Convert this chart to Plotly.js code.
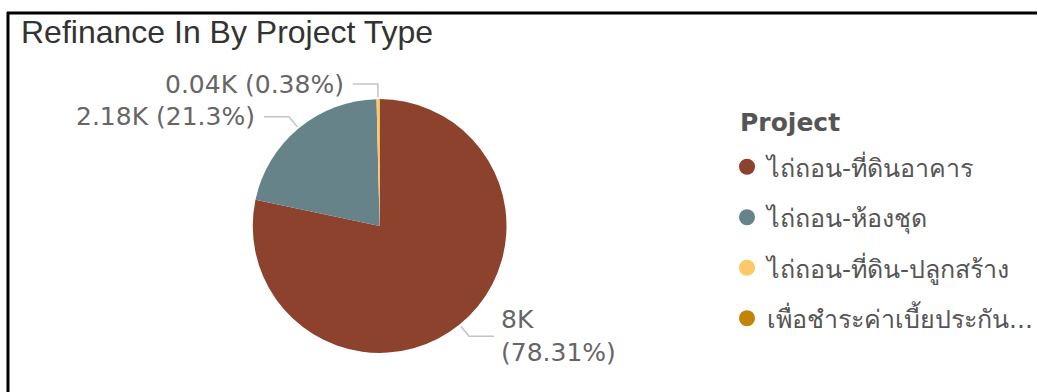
<!DOCTYPE html>
<html>
<head>
<meta charset="utf-8">
<script src="https://cdn.plot.ly/plotly-3.0.1.min.js"></script>
<style>html,body{margin:0;padding:0;background:#fff;}#chart{width:1038px;height:392px;}</style>
</head>
<body>
<div id="chart"></div>
<script>
// ---- data ----
const projects = ["ไถ่ถอน-ที่ดินอาคาร", "ไถ่ถอน-ห้องชุด", "ไถ่ถอน-ที่ดิน-ปลูกสร้าง", "เพื่อชำระค่าเบี้ยประกัน..."];
const amounts = [8003, 2177, 39, 1];
const sliceColors = ["#8C422D", "#67838A", "#FDC866", "#C2830A"];
const chartTitle = "Refinance In By Project Type";
const legendTitle = "Project";

// ---- geometry / style ----
const W = 1038, H = 392;
const pieDomX = [253 / W, 507 / W];
const pieDomY = [1 - 353 / H, 1 - 99 / H];
const cx = (pieDomX[0] + pieDomX[1]) / 2 * W;
const cy = (1 - (pieDomY[0] + pieDomY[1]) / 2) * H;
const R = Math.min((pieDomX[1] - pieDomX[0]) * W, (pieDomY[1] - pieDomY[0]) * H) / 2;
const px2x = p => p / W, py2y = p => 1 - p / H;
const lineColor = "#C4C4C4";
const labelFont = {family: "DejaVu Sans, Verdana, sans-serif", size: 25, color: "#666666"};

function trimNum(n, d) { return parseFloat(n.toFixed(d)).toString(); }

const total = amounts.reduce((a, b) => a + b, 0);
const shapes = [];
const annotations = [];
let cum = 0;
amounts.forEach((v, i) => {
  const frac = v / total;
  const mid = (cum + frac / 2) * 2 * Math.PI; // clockwise from 12 o'clock
  cum += frac;
  const pct = frac * 100;
  if (pct < 0.1) return;
  const sx = Math.sin(mid), sy = -Math.cos(mid);
  const p0 = [cx + (R + 2) * sx, cy + (R + 2) * sy];
  const p1 = [cx + (R + 15) * sx, cy + (R + 15) * sy];
  const right = sx > 0;
  const p2 = [p1[0] + (right ? 25 : -25), p1[1]];
  shapes.push({type: "path", xref: "paper", yref: "paper",
    path: `M ${px2x(p0[0])} ${py2y(p0[1])} L ${px2x(p1[0])} ${py2y(p1[1])} L ${px2x(p2[0])} ${py2y(p2[1])}`,
    line: {color: lineColor, width: 1.5}});
  const txt = trimNum(v / 1000, 2) + "K" + (right ? "<br>" : " ") + "(" + trimNum(pct, 2) + "%)";
  annotations.push({xref: "paper", yref: "paper", x: px2x(p2[0] + (right ? 5 : -7)), y: py2y(p2[1]),
    xanchor: right ? "left" : "right", yanchor: "middle", align: "left", showarrow: false,
    text: txt, font: labelFont});
});

// legend heading
annotations.push({xref: "paper", yref: "paper", x: px2x(739), y: py2y(122), xanchor: "left", yanchor: "middle",
  showarrow: false, text: "<b>" + legendTitle + "</b>",
  font: {family: "DejaVu Sans, Verdana, sans-serif", size: 25, color: "#555555"}});

// frame lines (left and top)
shapes.push({type: "line", xref: "paper", yref: "paper", x0: px2x(8), x1: px2x(8), y0: py2y(12), y1: py2y(H), line: {color: "#000", width: 3}});
shapes.push({type: "line", xref: "paper", yref: "paper", x0: px2x(7), x1: px2x(W), y0: py2y(13), y1: py2y(13), line: {color: "#000", width: 3}});

const traces = [{
  type: "pie", labels: projects, values: amounts, sort: false, direction: "clockwise", rotation: 0,
  marker: {colors: sliceColors, line: {width: 0}}, textinfo: "none", hoverinfo: "skip",
  showlegend: false, domain: {x: pieDomX, y: pieDomY}
}];
projects.forEach((p, i) => {
  traces.push({type: "scatter", mode: "markers", x: [null], y: [null], name: p, legendgroup: "g" + i,
    marker: {color: sliceColors[i], size: 17, symbol: "circle"}, hoverinfo: "skip"});
});

const layout = {
  width: W, height: H, margin: {l: 0, r: 0, t: 0, b: 0},
  paper_bgcolor: "#fff", plot_bgcolor: "rgba(0,0,0,0)",
  title: {text: chartTitle, x: px2x(21), xanchor: "left", y: py2y(21), yanchor: "top",
    font: {family: "Liberation Sans, Arial, sans-serif", size: 32, color: "#333333"}},
  xaxis: {visible: false}, yaxis: {visible: false},
  showlegend: true,
  legend: {x: px2x(728), y: py2y(144), xanchor: "left", yanchor: "top", tracegroupgap: 15,
    font: {family: "Tahoma, 'DejaVu Sans', sans-serif", size: 25, color: "#555555"},
    itemwidth: 30, bgcolor: "rgba(0,0,0,0)"},
  shapes: shapes, annotations: annotations
};
Plotly.newPlot("chart", traces, layout, {displayModeBar: false, staticPlot: true});
</script>
</body>
</html>
